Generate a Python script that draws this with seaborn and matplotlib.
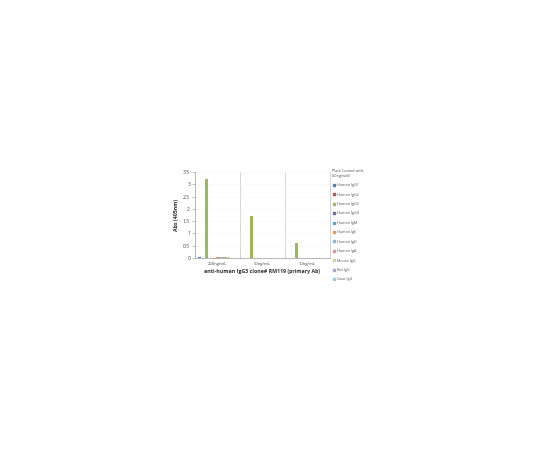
import matplotlib
matplotlib.use("Agg")
import matplotlib.pyplot as plt
from matplotlib.lines import Line2D
import seaborn as sns
import pandas as pd

categories = ["200ng/mL", "50ng/mL", "10ng/mL"]
series_names = ["Human IgG1", "Human IgG2", "Human IgG3", "Human IgG4", "Human IgM",
                "Human IgE", "Human IgD", "Human IgA", "Mouse IgG", "Rat IgG", "Goat IgG"]
human_igg1 = [0.02, 0.01, 0.01]
human_igg2 = [0.01, 0.01, 0.01]
human_igg3 = [3.22, 1.69, 0.60]
human_igg4 = [0.01, 0.01, 0.01]
human_igm = [0.01, 0.01, 0.01]
human_ige = [0.02, 0.01, 0.01]
human_igd = [0.04, 0.01, 0.01]
human_iga = [0.03, 0.01, 0.01]
mouse_igg = [0.02, 0.01, 0.01]
rat_igg = [0.01, 0.01, 0.01]
goat_igg = [0.01, 0.01, 0.01]
series_values = [human_igg1, human_igg2, human_igg3, human_igg4, human_igm, human_ige,
                 human_igd, human_iga, mouse_igg, rat_igg, goat_igg]
y_ticks = [0, 0.5, 1, 1.5, 2, 2.5, 3, 3.5]
y_tick_labels = ["0", "0.5", "1", "1.5", "2", "2.5", "3", "3.5"]

colors = ["#4F81BD", "#C0504D", "#9BBB59", "#8064A2", "#4BACC6", "#F79646",
          "#95B3D7", "#D99694", "#C3D69B", "#B2A2C7", "#93CDDD"]

rows = []
for name, vals in zip(series_names, series_values):
    for c, v in zip(categories, vals):
        rows.append({"conc": c, "coat": name, "abs": v})
df = pd.DataFrame(rows)

sns.set_style("white")
plt.rcParams["font.family"] = ["Open Sans", "DejaVu Sans"]

fig = plt.figure(figsize=(5.4, 4.5), dpi=100)
ax = fig.add_axes([0.3611, 0.4267, 0.2500, 0.1911])

sns.barplot(data=df, x="conc", y="abs", hue="coat", order=categories,
            hue_order=series_names, palette=colors, width=0.88, ax=ax,
            legend=False, saturation=1, edgecolor="none", linewidth=0)

ax.set_ylim(0, 3.5)
ax.set_xlim(-0.5, 2.5)
ax.set_yticks(y_ticks)
ax.set_yticklabels(y_tick_labels)
ax.set_axisbelow(True)
ax.yaxis.grid(True, color="#F6F6F6", lw=0.4)
for xv in [0.5, 1.5]:
    ax.axvline(xv, color="#D0D0D0", lw=0.6, zorder=0)

ax.spines["top"].set_visible(False)
ax.spines["right"].set_color("#D0D0D0")
ax.spines["right"].set_linewidth(0.6)
ax.spines["left"].set_color("#A8A8A8")
ax.spines["bottom"].set_color("#A8A8A8")
ax.spines["left"].set_linewidth(0.6)
ax.spines["bottom"].set_linewidth(0.6)
ax.tick_params(axis="y", length=2, width=0.5, color="#A8A8A8", labelsize=3.6,
               labelcolor="#404040", pad=1.5, left=True, right=False)
ax.tick_params(axis="x", length=0, labelsize=3.0, labelcolor="#404040", pad=3)

ax.set_xlabel("anti-human IgG3 clone# RM119 (primary Ab)", fontsize=3.8,
              fontweight="bold", color="#303030", labelpad=2)
ax.set_ylabel("Abs (405nm)", fontsize=3.8, fontweight="bold", color="#303030", labelpad=3)

handles = [Line2D([0], [0], marker="s", linestyle="none", markersize=1.5,
                  markerfacecolor=c, markeredgecolor=c) for c in colors]
leg = ax.legend(handles, series_names, title="Plate Coated with:\n(50ng/well)",
                loc="upper left", bbox_to_anchor=(1.0, 1.06), frameon=False,
                fontsize=2.7, title_fontsize=2.7, labelspacing=1.45,
                handletextpad=0.4, handlelength=0.8, borderaxespad=0.2)
leg._legend_box.align = "left"
for t in leg.get_texts():
    t.set_color("#505050")
leg.get_title().set_color("#505050")

fig.savefig("out.png", dpi=100)
